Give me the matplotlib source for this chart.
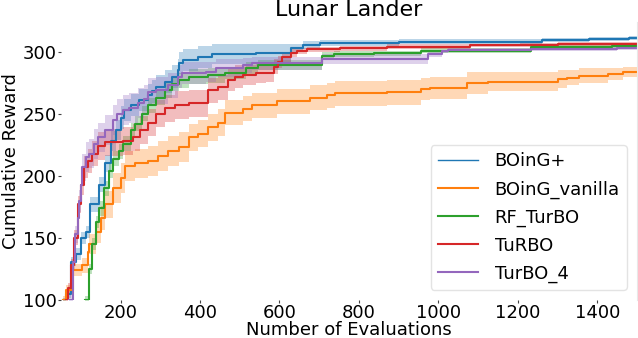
import matplotlib
matplotlib.use("Agg")
import matplotlib.pyplot as plt
import numpy as np

title = "Lunar Lander"
xlabel = "Number of Evaluations"
ylabel = "Cumulative Reward"
xticks = [200, 400, 600, 800, 1000, 1200, 1400]
yticks = [100, 150, 200, 250, 300]

boing_plus_x = [54, 62, 74, 87, 100, 112, 124, 145, 162, 175, 188, 200, 208, 225, 246, 268, 280, 288,
                313, 330, 344, 347, 358, 396, 431, 540, 628, 658, 703, 900, 1262, 1378, 1480, 1500]
boing_plus_y = [100, 105, 131, 137, 150, 155, 177, 193, 210, 228, 237, 247, 253, 257, 261, 265, 268, 272,
                276, 280, 285, 291, 293.5, 296, 298, 299, 303, 305.5, 307, 308, 309.5, 310.5, 311.3, 311.3]
boing_plus_err = [2, 3, 4, 5, 5, 5, 6, 6, 7, 8, 8, 9, 9, 9, 9, 9, 9, 9,
                  9, 9, 9, 9, 9, 9, 8, 7, 3.5, 3, 2.5, 2, 1.5, 1.5, 1.5, 1.5]

boing_vanilla_x = [54, 62, 79, 104, 117, 120, 137, 150, 162, 182, 200, 212, 237, 270, 295, 320, 346, 371,
                   396, 421, 446, 464, 507, 532, 595, 678, 720, 741, 871, 955, 980, 1073, 1126, 1300,
                   1325, 1355, 1428, 1465, 1500]
boing_vanilla_y = [100, 108, 124, 128, 139, 145, 155, 166, 177, 190, 198, 208, 210, 212, 216, 220, 223, 231,
                   234, 239, 243, 251, 254, 257, 260, 263, 265, 266.5, 267.5, 270, 271, 275, 276, 278,
                   279, 280.7, 282, 284, 284]
boing_vanilla_err = [3, 4, 5, 6, 7, 8, 9, 10, 11, 12, 12, 12, 12, 12, 12, 12, 12, 11,
                     11, 11, 11, 10, 10, 10, 10, 10, 10, 10, 10, 9, 9, 9, 8, 7,
                     6, 6, 5, 4, 4]

rf_turbo_x = [110, 120, 129, 137, 145, 157, 170, 182, 195, 205, 225, 237, 255, 270, 288, 313, 330, 346,
              371, 421, 464, 515, 545, 708, 737, 837, 955, 1232, 1437, 1500]
rf_turbo_y = [100, 125, 145, 163, 174, 190, 204, 214, 220, 226, 237, 242, 250, 257, 263, 269, 274, 277,
              280, 281, 283, 287, 289.5, 296.7, 298.5, 299, 301, 304, 304.5, 304.5]
rf_turbo_err = [3, 4, 5, 5, 6, 6, 6, 6, 6, 6, 6, 6, 6, 6, 6, 6, 6, 6,
                6, 6, 5, 5, 4, 3, 2.5, 2, 2, 1.5, 1.5, 1.5]

turbo_x = [62, 67, 74, 82, 92, 100, 107, 117, 129, 142, 162, 205, 232, 250, 270, 288, 313, 338, 371,
           419, 446, 471, 489, 507, 540, 565, 585, 597, 607, 628, 645, 670, 753, 871, 1080, 1206,
           1302, 1382, 1500]
turbo_y = [100, 110, 128, 150, 177, 193, 207, 212, 218, 224, 227, 228, 231, 237, 243, 250, 254.5, 257, 258.5,
           269, 271.5, 277, 280, 281, 283, 283, 288, 292, 296, 299, 300.6, 302, 303, 304, 305.1, 305.7,
           306.2, 306.5, 306.5]
turbo_err = [3, 4, 5, 6, 7, 8, 9, 10, 10, 11, 11, 11, 11, 11, 11, 11, 11, 11, 11,
             10, 10, 9, 9, 8, 8, 7, 6, 5, 4, 3, 2.5, 2, 2, 2, 1.5, 1.5,
             1.5, 1.5, 1.5]

turbo4_x = [69, 79, 84, 92, 95, 100, 104, 112, 120, 132, 142, 162, 182, 192, 205, 220, 245, 258, 270,
            288, 320, 344, 355, 414, 439, 507, 532, 708, 975, 1010, 1025, 1232, 1450, 1500]
turbo4_y = [100, 131, 153, 166, 180, 193, 207, 215, 218, 226, 231, 237, 245, 250, 253, 255, 259, 262, 267.5,
            269, 273, 280, 283, 284, 287, 289, 290.7, 294.3, 298, 300.3, 301.3, 302.2, 303.3, 303.3]
turbo4_err = [4, 6, 7, 8, 9, 10, 11, 12, 12, 12, 12, 12, 12, 12, 12, 12, 12, 11, 11,
              11, 10, 9, 9, 8, 7, 6, 5, 4, 2, 1.5, 1.5, 1.5, 1.5, 1.5]

series = [
    ("BOinG+", boing_plus_x, boing_plus_y, boing_plus_err, "tab:blue"),
    ("BOinG_vanilla", boing_vanilla_x, boing_vanilla_y, boing_vanilla_err, "tab:orange"),
    ("RF_TurBO", rf_turbo_x, rf_turbo_y, rf_turbo_err, "tab:green"),
    ("TuRBO", turbo_x, turbo_y, turbo_err, "tab:red"),
    ("TurBO_4", turbo4_x, turbo4_y, turbo4_err, "tab:purple"),
]

fig = plt.figure(figsize=(6.38, 3.38), dpi=100)
ax = fig.add_axes([61 / 638, 38 / 338, 576 / 638, 278 / 338])

for name, xs, ys, es, col in series:
    xs = np.asarray(xs, float)
    ys = np.asarray(ys, float)
    es = np.asarray(es, float)
    ax.fill_between(xs, ys - es, ys + es, step="post", color=col, alpha=0.3, linewidth=0)
    ax.step(xs, ys, where="post", color=col, lw=1.5, label=name)

ax.set_xlim(50, 1500)
ax.set_ylim(100, 324)
ax.set_xticks(xticks)
ax.set_yticks(yticks)
ax.tick_params(labelsize=13, length=2, width=0.8, pad=1, color="#444444")
ax.set_title(title, fontsize=16, pad=4)
ax.set_xlabel(xlabel, fontsize=13, labelpad=-1)
ax.set_ylabel(ylabel, fontsize=13, labelpad=2)
for s in ["left", "top", "bottom"]:
    ax.spines[s].set_visible(False)
ax.spines["right"].set_color("#e8e8e8")

leg = ax.legend(loc="lower right", fontsize=13, frameon=True, borderpad=0.4,
                labelspacing=0.55, handlelength=2.2, handletextpad=0.95,
                bbox_to_anchor=(1.0, 0.0), borderaxespad=0.55)
leg.get_frame().set_edgecolor("#dddddd")
leg.get_lines()[0].set_linewidth(1.0)

fig.savefig("out.png", dpi=100)
